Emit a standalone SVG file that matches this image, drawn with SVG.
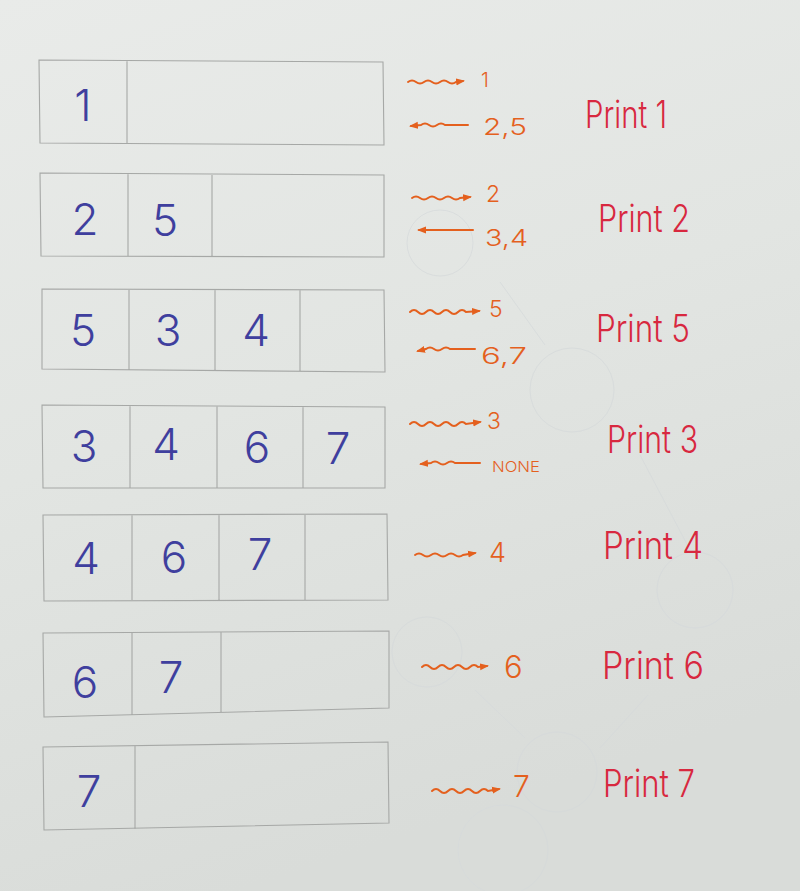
<svg xmlns="http://www.w3.org/2000/svg" width="800" height="891" viewBox="0 0 800 891">
<defs>
<linearGradient id="paper" x1="0" y1="0" x2="0.3" y2="1">
<stop offset="0" stop-color="#e9ebe9"/>
<stop offset="0.5" stop-color="#e2e5e2"/>
<stop offset="1" stop-color="#d9dcd9"/>
</linearGradient>
<marker id="ah" markerWidth="10" markerHeight="8" refX="7" refY="4" orient="auto" markerUnits="userSpaceOnUse">
<path d="M0,0.5 L9,4 L0,7.5 z" fill="#e4601e"/>
</marker>
<style>
.box{fill:none;stroke:#a6a8a6;stroke-width:1.1}
.d{font-family:Inter,"Liberation Sans",Arial,sans-serif;font-weight:300;font-size:44px;fill:#3f3f9e;text-anchor:middle}
.o{font-family:Inter,"Liberation Sans",Arial,sans-serif;font-weight:300;font-size:23px;fill:#e4601e}
.p{font-family:Inter,"Liberation Sans",Arial,sans-serif;font-weight:300;font-size:38px;fill:#d8283f}
.w{fill:none;stroke:#e4601e;stroke-width:2;stroke-linecap:round;marker-end:url(#ah)}
.ghost{fill:none;stroke:#d6dadb;stroke-width:1}
</style>
</defs>
<rect width="800" height="891" fill="url(#paper)"/>
<g id="erased-tree" opacity="0.75">
<circle class="ghost" cx="440" cy="243" r="33"/>
<circle class="ghost" cx="572" cy="390" r="42"/>
<circle class="ghost" cx="695" cy="590" r="38"/>
<circle class="ghost" cx="427" cy="652" r="35"/>
<circle class="ghost" cx="557" cy="772" r="40"/>
<circle class="ghost" cx="503" cy="850" r="45"/>
<path class="ghost" d="M500 282 L545 345 M640 455 L690 550 M475 690 L525 738 M648 695 L600 748"/>
</g>
<g id="row1">
<path class="box" d="M39 60 L383 62 L384 145 L40 143 Z M127 61 L127 144"/>
<text class="d" x="83" y="121">1</text>
</g>
<g id="row2">
<path class="box" d="M40 173 L384 175 L384 257 L41 256 Z M128 174 L128 256 M212 175 L212 256"/>
<text class="d" x="85" y="235">2</text>
<text class="d" x="165" y="236">5</text>
</g>
<g id="row3">
<path class="box" d="M42 289 L384 290 L385 372 L42 369 Z M129 289 L129 370 M215 289 L215 371 M300 290 L300 371"/>
<text class="d" x="83" y="346">5</text>
<text class="d" x="168" y="346">3</text>
<text class="d" x="256" y="346">4</text>
</g>
<g id="row4">
<path class="box" d="M42 405 L385 407 L385 488 L43 488 Z M130 406 L130 488 M217 406 L217 488 M303 407 L303 488"/>
<text class="d" x="84" y="462">3</text>
<text class="d" x="166" y="460">4</text>
<text class="d" x="257" y="463">6</text>
<text class="d" x="338" y="464">7</text>
</g>
<g id="row5">
<path class="box" d="M43 515 L387 514 L388 600 L44 601 Z M132 515 L132 600 M219 515 L219 600 M305 514 L305 600"/>
<text class="d" x="86" y="574">4</text>
<text class="d" x="174" y="573">6</text>
<text class="d" x="260" y="570">7</text>
</g>
<g id="row6">
<path class="box" d="M43 633 L389 631 L389 708 L44 717 Z M132 633 L132 715 M221 632 L221 712"/>
<text class="d" x="85" y="698">6</text>
<text class="d" x="171" y="693">7</text>
</g>
<g id="row7">
<path class="box" d="M43 747 L388 742 L389 823 L44 830 Z M135 746 L135 829"/>
<text class="d" x="89" y="807">7</text>
</g>
<g id="connectors">
<path class="w" d="M408 82 q4 -3 8 0 t8 0 t8 0 t8 0 t8 0 t8 0 L463 81"/>
<path class="w" d="M468 125 L445 125 q-4 -3 -8 0 t-8 0 t-8 0 L411 126"/>
<path class="w" d="M412 198 q4 -3 8 0 t8 0 t8 0 t8 0 t8 0 t8 0 L470 197"/>
<path class="w" d="M473 230 L419 230"/>
<path class="w" d="M410 312 q4 -4 8 0 t8 0 t8 0 t8 0 t8 0 t8 0 t8 0 L479 311"/>
<path class="w" d="M475 349 L450 349 q-4 -3 -8 0 t-8 0 t-8 0 L418 351"/>
<path class="w" d="M410 424 q4 -4 8 0 t8 0 t8 0 t8 0 t8 0 t8 0 t8 0 L480 422"/>
<path class="w" d="M480 463 L455 463 q-4 -3 -8 0 t-8 0 t-8 0 L421 464"/>
<path class="w" d="M415 555 q4 -3 8 0 t8 0 t8 0 t8 0 t8 0 t8 0 L475 553"/>
<path class="w" d="M422 667 q4 -4 8 0 t8 0 t8 0 t8 0 t8 0 t8 0 t8 0 L487 666"/>
<path class="w" d="M432 791 q4 -4 8 0 t8 0 t8 0 t8 0 t8 0 t8 0 t8 0 L499 789"/>
</g>
<g id="labels-out">
<text class="o" x="481" y="87" style="font-size:20px">1</text>
<text class="o" x="483" y="135" textLength="44" lengthAdjust="spacingAndGlyphs">2,5</text>
<text class="o" x="486" y="202">2</text>
<text class="o" x="485" y="246" textLength="43" lengthAdjust="spacingAndGlyphs">3,4</text>
<text class="o" x="489" y="317">5</text>
<text class="o" x="481" y="364" textLength="46" lengthAdjust="spacingAndGlyphs">6,7</text>
<text class="o" x="487" y="429">3</text>
<text class="o" x="492" y="472" style="font-size:15px" textLength="48" lengthAdjust="spacingAndGlyphs">NONE</text>
<text class="o" x="489" y="562" style="font-size:27px">4</text>
<text class="o" x="504" y="678" style="font-size:31px">6</text>
<text class="o" x="513" y="797" style="font-size:30px">7</text>
</g>
<g id="prints">
<text class="p" x="585" y="128" textLength="82" lengthAdjust="spacingAndGlyphs">Print 1</text>
<text class="p" x="598" y="232" textLength="92" lengthAdjust="spacingAndGlyphs">Print 2</text>
<text class="p" x="596" y="342" textLength="94" lengthAdjust="spacingAndGlyphs">Print 5</text>
<text class="p" x="607" y="453" textLength="91" lengthAdjust="spacingAndGlyphs">Print 3</text>
<text class="p" x="603" y="559" textLength="100" lengthAdjust="spacingAndGlyphs">Print 4</text>
<text class="p" x="602" y="679" textLength="102" lengthAdjust="spacingAndGlyphs">Print 6</text>
<text class="p" x="603" y="797" textLength="92" lengthAdjust="spacingAndGlyphs">Print 7</text>
</g>
</svg>
